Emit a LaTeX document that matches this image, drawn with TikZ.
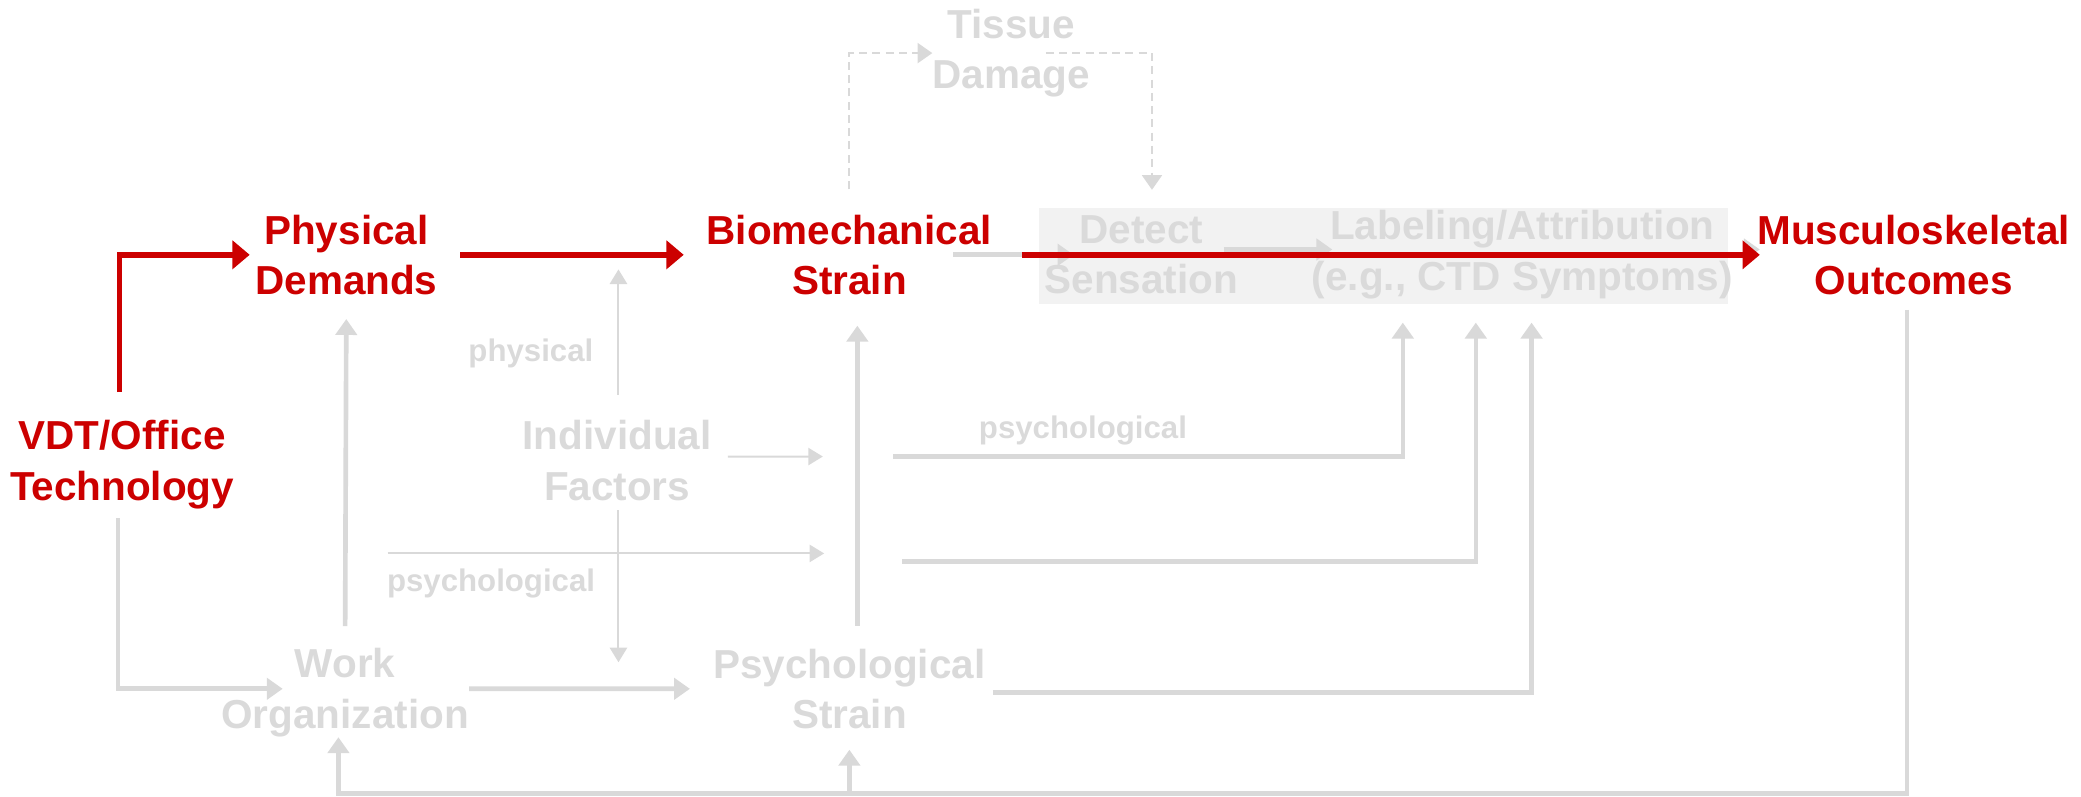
\documentclass[tikz,border=0pt]{standalone}
\usepackage{fontspec}
\setmainfont{Liberation Sans}
\usetikzlibrary{arrows.meta}
\definecolor{redc}{HTML}{CC0000}
\definecolor{grayc}{HTML}{D9D9D9}
\definecolor{grayt}{HTML}{DADADA}
\definecolor{boxc}{HTML}{F2F2F2}
\begin{document}
\begin{tikzpicture}[x=1bp,y=-1bp,
  lbl/.style={font=\bfseries\fontsize{30.5bp}{38bp}\selectfont, align=center, inner sep=0pt},
  redn/.style={lbl, text=redc},
  grayn/.style={lbl, text=grayt},
  small/.style={font=\bfseries\fontsize{23.5bp}{28bp}\selectfont, text=grayt, inner sep=0pt},
  redarr/.style={draw=redc, line width=4.3bp, -{Triangle[length=13bp,width=21bp]}},
  garr/.style={draw=grayc, line width=3.5bp, -{Triangle[length=12bp,width=16bp]}},
  tarr/.style={draw=grayc, line width=1.5bp, -{Triangle[length=11bp,width=13bp]}},
  darr/.style={draw=grayc, line width=1.5bp, dash pattern=on 6bp off 4bp, -{Triangle[length=11bp,width=15bp]}},
]
\useasboundingbox (0,0) rectangle (1568,600);
% shaded box
\node[fill=boxc, minimum width=519bp, minimum height=72bp, inner sep=0pt] (box) at (1042.5,193) {};
% nodes
\node[redn] (pd) at (261,192) {Physical\\Demands};
\node[redn] (bs) at (640,192) {Biomechanical\\Strain};
\node[redn] (mo) at (1442,192) {Musculoskeletal\\Outcomes};
\node[redn] (vdt) at (92,350) {VDT/Office\\Technology};
\node[grayn] (td) at (762,40) {Tissue\\Damage};
\node[grayn] (ds) at (860,192) {Detect\\Sensation};
\node[grayn] (la) at (1147,192) {Labeling/Attribution\\(e.g., CTD Symptoms)};
\node[grayn] (if) at (465,347) {Individual\\Factors};
\node[grayn] (wo) at (260,522) {Work\\Organization};
\node[grayn] (ps) at (640,519) {Psychological\\Strain};
% small labels
\node[small] (l1) at (400,266) {physical};
\node[small] (l2) at (816,324) {psychological};
\node[small] (l3) at (370,440) {psychological};
% named free ends
\coordinate (dsIn) at (868,143);
\coordinate (ifUp) at (466,203);
\coordinate (ifDn) at (466,499);
\coordinate (ifRt) at (620,344);
\coordinate (psyA) at (292,417);
\coordinate (psyB) at (621,417);
\coordinate (h1) at (673,344);
\coordinate (h2) at (680,423);
\coordinate (fb) at (800,598);
\coordinate (woIn) at (213,519);
% gray arrows in box
\draw[garr, shorten <=-29.5bp, shorten >=-22bp] (bs.east) -- (ds.west);
\draw[garr, shorten <=-11bp, shorten >=-15.5bp] ([yshift=4bp]ds.east) -- ([yshift=4bp]la.west);
\draw[garr, shorten <=10bp, shorten >=-2bp] ([yshift=4bp]la.east) -- ([yshift=4bp]mo.west);
% dashed tissue damage loop
\draw[darr, shorten <=19bp] (bs.north) |- (td.west);
\draw[darr] ([xshift=26bp]td.center) -| (dsIn);
% vertical gray
\draw[garr, shorten <=16.7bp, shorten >=18bp] (wo.north) -- (pd.south);
\draw[garr, shorten <=17bp, shorten >=23bp] ([xshift=6bp]ps.north) -- ([xshift=6bp]bs.south);
% individual factors
\draw[tarr, shorten <=19bp] ([xshift=1bp]if.north) -- (ifUp);
\draw[tarr, shorten <=7bp] ([xshift=1bp]if.south) -- (ifDn);
\draw[tarr, shorten <=12bp] ([yshift=3bp]if.east) -- (ifRt);
\draw[tarr] (psyA) -- (psyB);
% to labeling
\draw[garr, shorten >=17.6bp] (h1) -| ([xshift=-90bp]la.south);
\draw[garr, shorten >=17.6bp] (h2) -| ([xshift=-35bp]la.south);
\draw[garr, shorten <=5.4bp, shorten >=17.6bp] ([yshift=-3bp]ps.east) -| ([xshift=7bp]la.south);
% feedback
\draw[garr, shorten <=11bp] ([xshift=-5bp]mo.south) |- (fb) -| ([xshift=-5bp]wo.south);
\draw[garr, shorten >=15.5bp] (ps.south |- fb) -- (ps.south);
% VDT to work organization
\draw[garr, shorten <=7bp] ([xshift=-3bp]vdt.south) |- (woIn);
\draw[garr, shorten >=17.4bp] ([yshift=3bp]wo.east) -- (ps.west);
% red path
\draw[redarr, shorten <=21bp, shorten >=4bp] ([xshift=-2bp]vdt.north) |- (pd.west);
\draw[redarr, shorten <=17bp, shorten >=17bp] (pd.east) -- (bs.west);
\draw[redarr, shorten <=22.5bp, shorten >=-2bp] (bs.east) -- (mo.west);
\end{tikzpicture}
\end{document}
